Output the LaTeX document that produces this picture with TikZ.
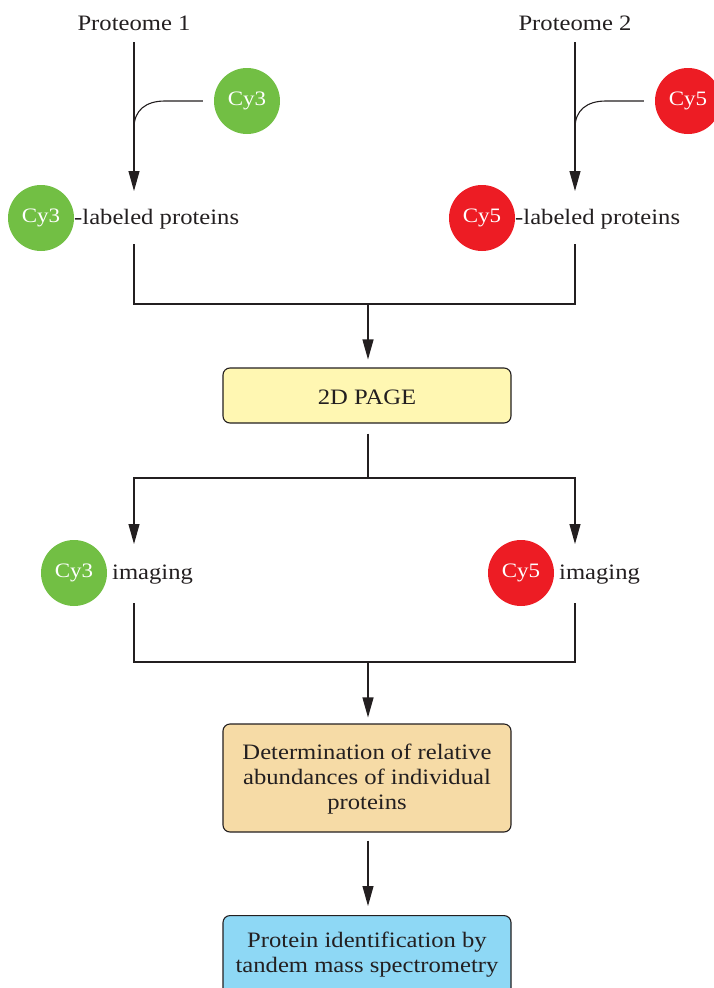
\documentclass[tikz,border=0pt]{standalone}
\usepackage{fontspec}
\setmainfont{Liberation Serif}[FakeStretch=1.12]
\usetikzlibrary{arrows.meta}
\definecolor{ink}{HTML}{231F20}
\definecolor{cygreen}{HTML}{72BF44}
\definecolor{cyred}{HTML}{ED1C24}
\definecolor{pageyellow}{HTML}{FFF7B2}
\definecolor{detwheat}{HTML}{F6DBA6}
\definecolor{idblue}{HTML}{8ED8F5}
\tikzset{
  txt/.style={text=ink, font=\fontsize{22}{25}\selectfont, inner sep=0pt, yshift=-1.5pt},
  dye/.style={circle, minimum size=66pt, inner sep=0pt, text=white, font=\fontsize{20.5}{25}\selectfont},
  g/.style={dye, fill=cygreen},
  r/.style={dye, fill=cyred},
  boxstep/.style={draw=ink, line width=1.1pt, rounded corners=7pt, minimum width=288pt, inner sep=0pt},
  conn/.style={draw=ink, line width=1.1pt},
  arr/.style={conn, -{Triangle[length=20pt,width=11pt]}},
}
\begin{document}
\begin{tikzpicture}[x=1pt,y=-1pt]
\useasboundingbox (0,0) rectangle (714,988);
\clip (0,0) rectangle (714,988);
% top labels
\node[txt] (p1) at (134,22) {Proteome 1};
\node[txt] (p2) at (575,22) {Proteome 2};
% dyes
\node[g] (dye3) at (247,101) {Cy3};
\node[r] (dye5) at (688,101) {Cy5};
% labeled proteins
\node[g] (lab3c) at (41,218) {Cy3};
\node[txt, anchor=west] (lab3t) at (74,218) {-labeled proteins};
\node[r] (lab5c) at (482,218) {Cy5};
\node[txt, anchor=west] (lab5t) at (515,218) {-labeled proteins};
\coordinate (p1top) at (134,42);
\coordinate (p1end) at (134,191);
\coordinate (p2top) at (575,42);
\coordinate (p2end) at (575,191);
\draw[arr] (p1top) -- (p1end);
\draw[arr] (p2top) -- (p2end);
\draw[conn] ([xshift=-11pt]dye3.west) -- (165,101) .. controls (146,101) and (134,110) .. (134,128);
\draw[conn] ([xshift=-11pt]dye5.west) -- (606,101) .. controls (587,101) and (575,110) .. (575,128);
% merge to 2D PAGE
\node[boxstep, fill=pageyellow, minimum height=55pt] (page) at (367,395.5) {};
\node[txt] (pagetxt) at (page.center) {2D PAGE};
\coordinate (m1a) at (134,244);
\coordinate (m1b) at (575,244);
\coordinate (m1j) at (368,304);
\draw[conn] (m1a) |- (m1j) -| (m1b);
\draw[arr] (m1j) -- ([yshift=8pt]page.north -| m1j);
% split to imaging
\coordinate (s1) at (368,478);
\coordinate (s1l) at (134,478);
\coordinate (s1r) at (575,478);
\node[g] (img3c) at (74,573) {Cy3};
\node[txt, anchor=west] (img3t) at (112,573) {imaging};
\node[r] (img5c) at (521,573) {Cy5};
\node[txt, anchor=west] (img5t) at (559,573) {imaging};
\coordinate (i3end) at (134,544);
\coordinate (i5end) at (575,544);
\draw[conn] ([yshift=-10pt]page.south -| s1) -- (s1);
\draw[arr] (s1) -- (s1l) -- (i3end);
\draw[arr] (s1) -- (s1r) -- (i5end);
% merge to determination
\node[boxstep, fill=detwheat, minimum height=108pt] (det) at (367,778) {};
\node[txt, align=center] (dettxt) at (det.center) {Determination of relative\\abundances of individual\\proteins};
\coordinate (m2a) at (134,603);
\coordinate (m2b) at (575,603);
\coordinate (m2j) at (368,662);
\draw[conn] (m2a) |- (m2j) -| (m2b);
\draw[arr] (m2j) -- ([yshift=6pt]det.north -| m2j);
% identification
\node[boxstep, fill=idblue, minimum height=90pt, anchor=north] (ident) at (367,915) {};
\node[txt, align=center] (identtxt) at (367,953.5) {Protein identification by\\tandem mass spectrometry};
\draw[arr] ([yshift=-8pt]det.south -| m2j) -- ([yshift=9pt]ident.north -| m2j);
\end{tikzpicture}
\end{document}
